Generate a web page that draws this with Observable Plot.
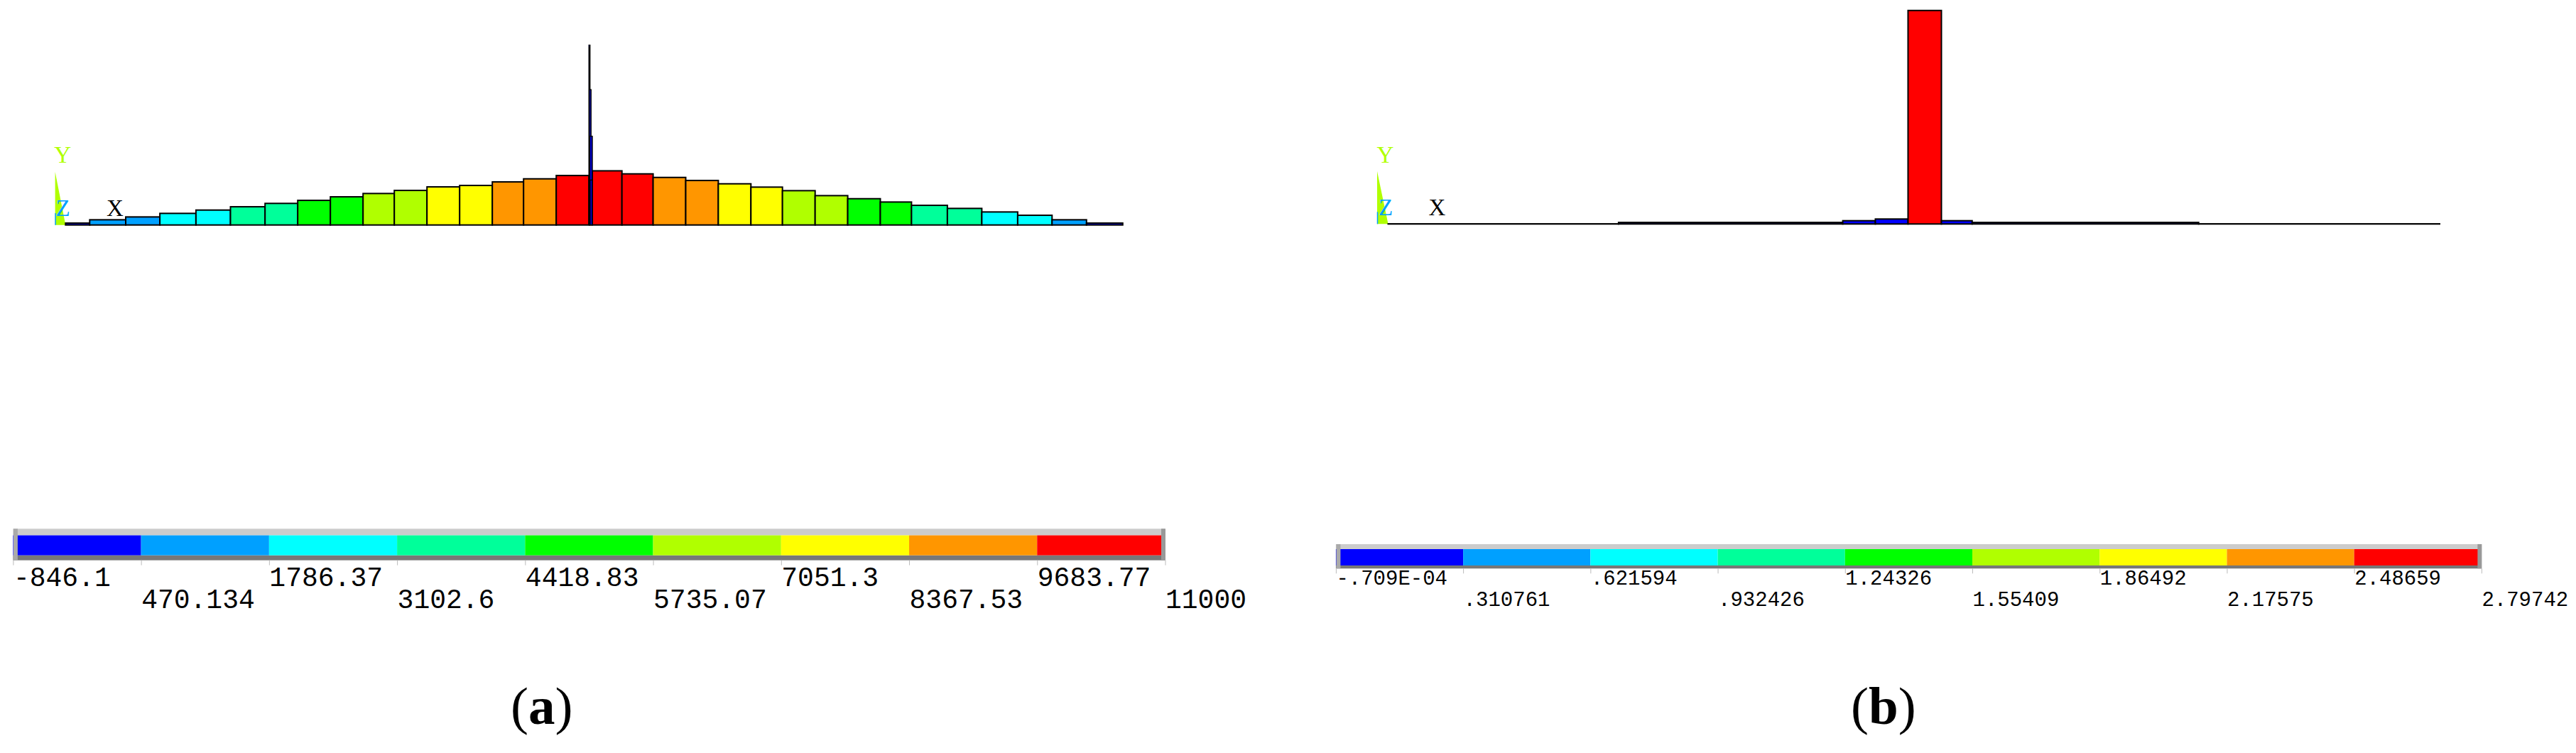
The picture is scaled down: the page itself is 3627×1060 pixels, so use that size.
<!DOCTYPE html>
<html>
<head>
<meta charset="utf-8">
<script src="https://cdn.jsdelivr.net/npm/d3@7"></script>
<script src="https://cdn.jsdelivr.net/npm/@observablehq/plot@0.6"></script>
<style>
html,body{margin:0;padding:0;background:#fff;width:3627px;height:1060px;overflow:hidden}
#page{position:relative;width:3627px;height:1060px}
#page>div{position:absolute}
#page svg{display:block;max-width:none;background:transparent}
.cap{font-family:"Liberation Serif",serif;font-size:75px;line-height:75px;color:#000;white-space:nowrap}
</style>
</head>
<body>
<div id="page"></div>
<script>
const bandColors = ["#0000ff","#00a0ff","#00ffff","#00ff9a","#00ff00","#b0ff00","#ffff00","#ff9600","#ff0000"];

// Panel (a)
const aTickLabels = ["-846.1","470.134","1786.37","3102.6","4418.83","5735.07","7051.3","8367.53","9683.77","11000"];
const aTicks = [-846.1,470.134,1786.37,3102.6,4418.83,5735.07,7051.3,8367.53,9683.77,11000];
const aEdges = [0,34,84.7,132.8,183.6,232.2,280.9,326.9,372.9,418.9,462.9,508.9,554.9,600.9,644.9,690.9,736.9,741.7,783.4,827.3,873.2,919.1,965,1009.4,1055.4,1101.3,1147.2,1191.1,1241.6,1290.1,1340.6,1389,1437.5,1488.5];
const aValues = [384,1057,1633,2353,3026,3698,4380,4995,5716,6388,7012,7733,8021,8742,9366,10038,null,10990,10374,9650,9030,8357,7685,6964,5956,5331,4659,3986,3362,2642,1969,1057,384];
const aSpikeX1 = [736.9,737.4,738,738.5];
const aSpikeX2 = [738.4,739.9,741.7,741.7];
const aSpikeValues = [36500,27470,18010,9125];

// Panel (b)
const bTickLabels = ["-.709E-04",".310761",".621594",".932426","1.24326","1.55409","1.86492","2.17575","2.48659","2.79742"];
const bTicks = [-0.0000709,0.310761,0.621594,0.932426,1.24326,1.55409,1.86492,2.17575,2.48659,2.79742];
const bEdges = [0,324.4,640.1,686,732,779,822.3,1141.2,1480.5];
const bValues = [0.002,0.02,0.043,0.065,2.797,0.043,0.02,0.002];

const panels = [
  {left:0, width:1813, beam:[92.3,1580.8], base:316.7, top:240.4, max:11000, edges:aEdges, values:aValues,
   spike:aSpikeValues.map((v,i)=>({x1:aSpikeX1[i],x2:aSpikeX2[i],value:v})),
   triad:{x:-14.7,h:10800,cyan:2400,yl:[-4.7,14170],zl:[-4.2,3460],xl:[69,3460]},
   ticks:aTicks, labels:aTickLabels, legendTop:730, legendH:170, axisY:58.7, bandTop:23.6, bandBottom:51.7,
   low:-0.249, high:1.331, tickX:[18.4,1640.5], fs:38, pad1:2, pad2:33, tickSize:7, side:6,
   cap:"a", capLeft:719},
  {left:1813, width:1814, beam:[141.5,1622], base:315.3, top:14.7, max:2.79742, edges:bEdges, values:bValues, spike:[],
   triad:{x:-15.5,h:0.691,cyan:0.158,yl:[-4.5,0.909],zl:[-4,0.22],xl:[68.3,0.22]},
   ticks:bTicks, labels:bTickLabels, legendTop:750, legendH:130, axisY:50.3, bandTop:23, bandBottom:46,
   low:-0.187, high:1.304, tickX:[67.9,1680.9], fs:29, pad1:-5, pad2:25, tickSize:7, side:6,
   cap:"b", capLeft:2606}
];

const page = document.getElementById("page");
const mono = '"Liberation Mono","DejaVu Sans Mono",monospace';
const serif = '"Liberation Serif",serif';

for (const p of panels) {
  const colorScale = {type:"threshold", domain:p.ticks.slice(1,-1), range:bandColors};
  const bars = p.values.map((v,i)=>({x1:p.edges[i],x2:p.edges[i+1],value:v})).filter(d=>d.value!=null);
  const L = p.edges[p.edges.length-1];
  const t = p.triad;

  const chart = Plot.plot({
    width:p.width, height:340, margin:0,
    x:{domain:[0,L], range:p.beam, axis:null},
    y:{domain:[0,p.max], range:[p.base,p.top], axis:null},
    color:colorScale,
    marks:[
      Plot.areaY([{x:t.x,y:t.h},{x:0,y:0}],{x:"x",y:"y",fill:"#b0ff00"}),
      Plot.ruleX([t.x],{y1:0,y2:t.cyan,stroke:"#00a0ff",strokeWidth:1.5}),
      Plot.rect(bars,{x1:"x1",x2:"x2",y1:0,y2:"value",fill:"value",stroke:"#000",strokeWidth:2}),
      Plot.rect(p.spike,{x1:"x1",x2:"x2",y1:0,y2:"value",fill:"#0000c8",stroke:"#000",strokeWidth:1.4}),
      Plot.text(["Y"],{x:t.yl[0],y:t.yl[1],text:d=>d,fill:"#b0ff00",fontFamily:serif,fontSize:33}),
      Plot.text(["Z"],{x:t.zl[0],y:t.zl[1],text:d=>d,fill:"#00a0ff",fontFamily:serif,fontSize:33}),
      Plot.text(["X"],{x:t.xl[0],y:t.xl[1],text:d=>d,fill:"#000",fontFamily:serif,fontSize:33})
    ]
  });
  const cw = document.createElement("div");
  cw.style.cssText = `left:${p.left}px;top:0`;
  cw.appendChild(chart);
  page.appendChild(cw);

  const min = p.ticks[0], max = p.ticks[p.ticks.length-1];
  const bands = bandColors.map((c,i)=>({x1:p.ticks[i],x2:p.ticks[i+1],band:p.ticks[i]}));
  const label = d => p.labels[p.ticks.indexOf(d)];
  const axisOpts = {anchor:"bottom",label:null,tickFormat:label,textAnchor:"start",stroke:"#bbb",fill:"#000",
                    fontFamily:mono,fontSize:p.fs,tickSize:p.tickSize};
  const legend = Plot.plot({
    width:p.width, height:p.legendH, marginTop:0, marginLeft:0, marginRight:0, marginBottom:p.legendH-p.axisY,
    x:{domain:[min,max], range:p.tickX, axis:null},
    y:{domain:[0,1], range:[p.bandBottom,p.bandTop], axis:null},
    color:colorScale,
    marks:[
      Plot.rect([0],{x1:min,x2:max,y1:1,y2:p.high,fill:"#cccccc"}),
      Plot.rect([0],{x1:min,x2:max,y1:p.low,y2:0,fill:"#777777"}),
      Plot.rect(bands,{x1:"x1",x2:"x2",y1:0,y2:1,fill:"band"}),
      Plot.ruleX([min],{y1:p.low,y2:p.high,stroke:"#aaaaaa",strokeWidth:p.side,dx:p.side/2}),
      Plot.ruleX([max],{y1:p.low,y2:p.high,stroke:"#999999",strokeWidth:p.side,dx:-p.side/2}),
      Plot.axisX(p.ticks.filter((_,i)=>i%2==0),{...axisOpts,tickPadding:p.pad1}),
      Plot.axisX(p.ticks.filter((_,i)=>i%2==1),{...axisOpts,tickPadding:p.pad2})
    ]
  });
  const lw = document.createElement("div");
  lw.style.cssText = `left:${p.left}px;top:${p.legendTop}px`;
  lw.appendChild(legend);
  page.appendChild(lw);

  const cap = document.createElement("div");
  cap.className = "cap";
  cap.style.cssText = `left:${p.capLeft}px;top:956px`;
  cap.innerHTML = `(<b>${p.cap}</b>)`;
  page.appendChild(cap);
}
</script>
</body>
</html>
